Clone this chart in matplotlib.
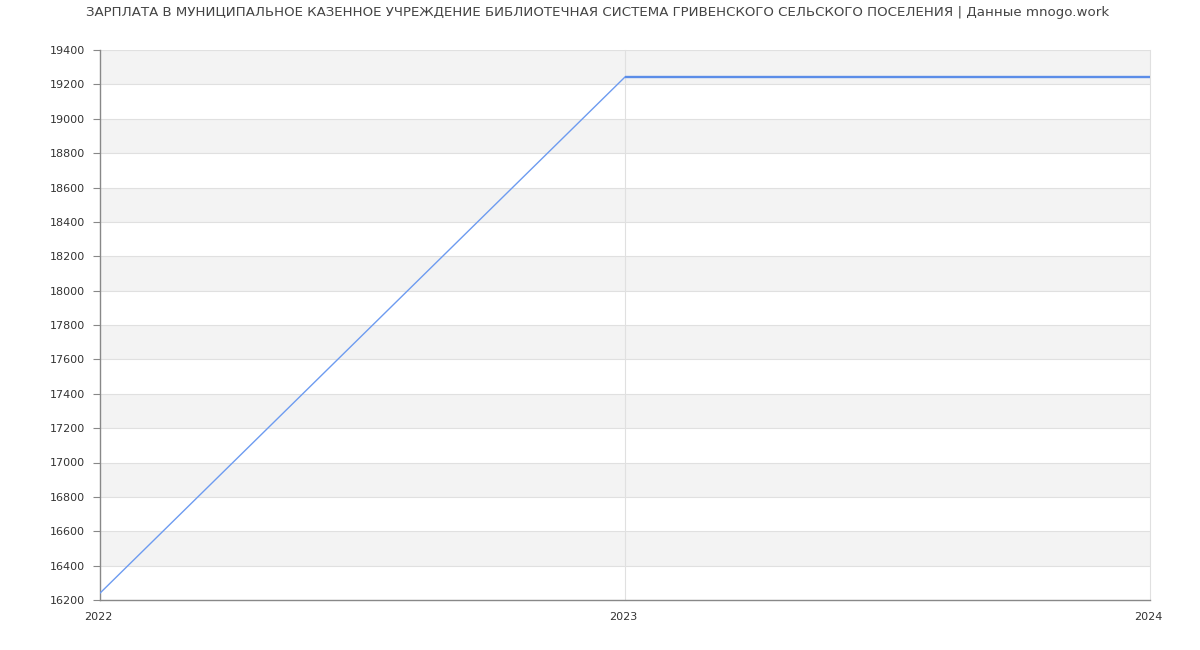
import matplotlib
matplotlib.use("Agg")
import matplotlib.pyplot as plt
import numpy as np

years = [2022, 2023, 2024]
salary = [16240, 19243, 19243]
yticks = list(range(16200, 19401, 200))
title = "ЗАРПЛАТА В МУНИЦИПАЛЬНОЕ КАЗЕННОЕ УЧРЕЖДЕНИЕ БИБЛИОТЕЧНАЯ СИСТЕМА ГРИВЕНСКОГО СЕЛЬСКОГО ПОСЕЛЕНИЯ | Данные mnogo.work"

plt.rcParams['font.family'] = ['DejaVu Sans']
fig = plt.figure(figsize=(12, 6.5), dpi=100)
ax = fig.add_axes([100/1200, 50/650, 1050/1200, 550/650])

ax.set_xlim(years[0], years[-1])
ax.set_ylim(yticks[0], yticks[-1])

for i in range(len(yticks) - 1):
    if i % 2 == 1:
        ax.axhspan(yticks[i], yticks[i+1], color='#f3f3f3', zorder=0, lw=0)
for y in yticks[1:]:
    ax.axhline(y, color='#e0e0e0', lw=0.8, zorder=1)
for x in years[1:]:
    ax.axvline(x, color='#e0e0e0', lw=0.8, zorder=1, clip_on=False)

ax.plot(years[:2], salary[:2], color='#6d9bf0', lw=1.0, zorder=3)
ax.plot(years[1:], salary[1:], color='#5b8de8', lw=1.7, zorder=3, solid_capstyle='butt')

ax.set_yticks(yticks)
ax.set_yticklabels([str(v) for v in yticks], fontsize=8, color='#333333')
ax.set_xticks(years)
ax.set_xticklabels([str(v) for v in years], fontsize=8, color='#333333')
for lab in ax.get_xticklabels():
    lab.set_x(lab.get_position()[0])
ax.tick_params(axis='y', length=5, color='#888888', width=0.8, pad=6)
ax.tick_params(axis='x', length=0, pad=9)
import matplotlib.transforms as mtransforms
offset = mtransforms.ScaledTranslation(-2/100, 0, fig.dpi_scale_trans)
for lab in ax.get_xticklabels():
    lab.set_transform(lab.get_transform() + offset)

for s in ['top', 'right']:
    ax.spines[s].set_visible(False)
for s in ['left', 'bottom']:
    ax.spines[s].set_color('#888888')
    ax.spines[s].set_linewidth(1.0)

fig.text(598/1200, 1 - 12.5/650, title, ha='center', va='center', fontsize=9.68, color='#444444')

fig.savefig('out.png', dpi=100)
